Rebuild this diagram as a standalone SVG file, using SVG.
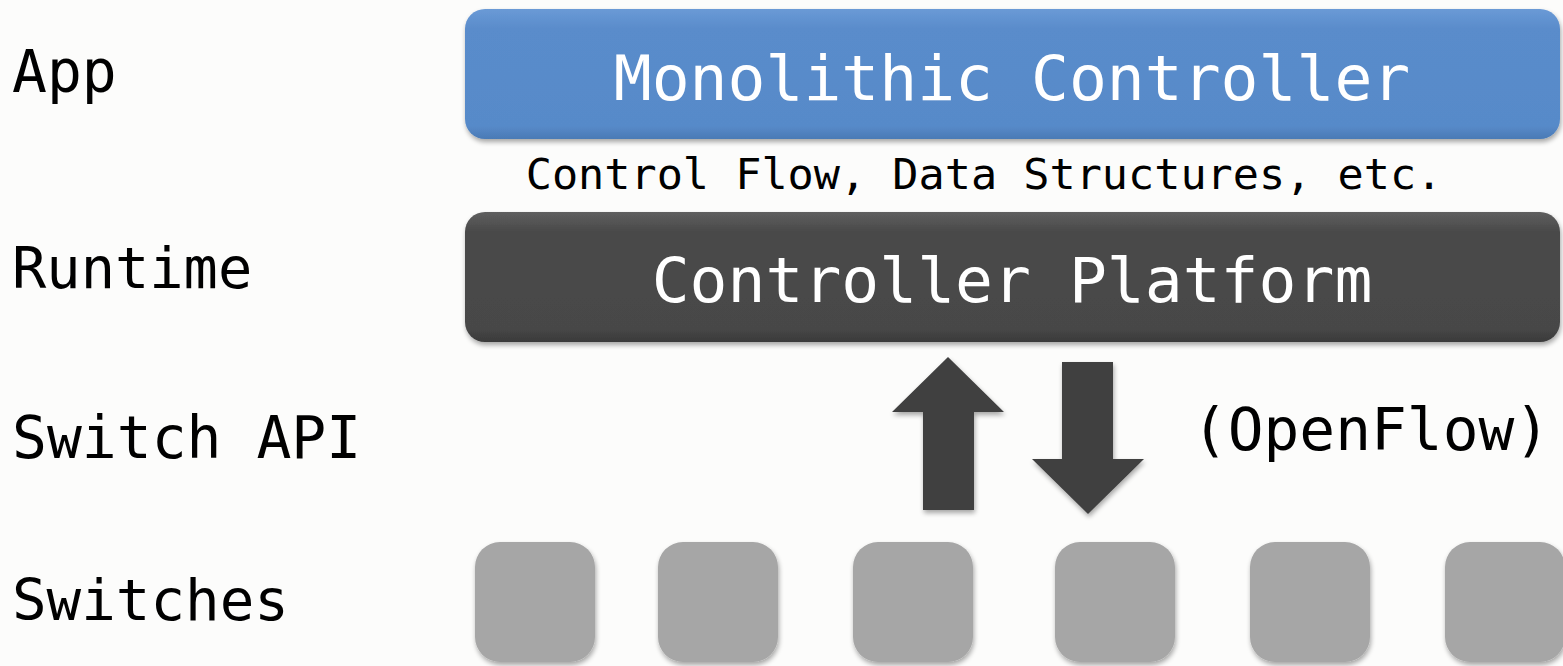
<svg xmlns="http://www.w3.org/2000/svg" width="1563" height="666" viewBox="0 0 1563 666">
<style>
.lbl{font-family:"DejaVu Sans Mono","Liberation Mono",monospace;fill:#000}
.wt{font-family:"DejaVu Sans Mono","Liberation Mono",monospace;fill:#fff}
.sw{fill:#a6a6a6}
.arr{fill:#404040}
</style>
<defs>
<linearGradient id="gb" x1="0" y1="0" x2="0" y2="1">
<stop offset="0" stop-color="#6a9ad6"/><stop offset="0.15" stop-color="#5a8ccb"/><stop offset="0.9" stop-color="#578ac9"/><stop offset="1" stop-color="#4a7ab5"/>
</linearGradient>
<linearGradient id="gd" x1="0" y1="0" x2="0" y2="1">
<stop offset="0" stop-color="#5e5e5e"/><stop offset="0.15" stop-color="#4a4a4a"/><stop offset="0.9" stop-color="#474747"/><stop offset="1" stop-color="#3a3a3a"/>
</linearGradient>
<filter id="sh" x="-10%" y="-10%" width="120%" height="130%">
<feGaussianBlur in="SourceAlpha" stdDeviation="2.5"/>
<feOffset dx="1" dy="3" result="b"/>
<feComponentTransfer><feFuncA type="linear" slope="0.35"/></feComponentTransfer>
<feMerge><feMergeNode/><feMergeNode in="SourceGraphic"/></feMerge>
</filter>
</defs>
<rect width="1563" height="666" fill="#fcfcfb"/>
<g id="labels">
<text class="lbl" x="12" y="92" font-size="58">App</text>
<text class="lbl" x="12" y="288" font-size="57">Runtime</text>
<text class="lbl" x="12" y="458" font-size="58">Switch API</text>
<text class="lbl" x="12" y="620" font-size="57.5">Switches</text>
</g>
<g id="app">
<rect x="465" y="9" width="1095" height="130" rx="20" fill="url(#gb)" filter="url(#sh)"/>
<text class="wt" x="1012" y="100" font-size="63" text-anchor="middle">Monolithic Controller</text>
</g>
<g id="middle-label">
<text class="lbl" x="984" y="189" font-size="43.5" text-anchor="middle">Control Flow, Data Structures, etc.</text>
</g>
<g id="runtime">
<rect x="465" y="212" width="1095" height="130" rx="20" fill="url(#gd)" filter="url(#sh)"/>
<text class="wt" x="1012" y="302" font-size="63" text-anchor="middle">Controller Platform</text>
</g>
<g id="connectors">
<polygon class="arr" filter="url(#sh)" points="948,357 1004,412 974,412 974,510 923,510 923,412 892,412"/>
<polygon class="arr" filter="url(#sh)" points="1062,362 1113,362 1113,459 1144,459 1088,514 1032,459 1062,459"/>
</g>
<g id="openflow">
<text class="lbl" x="1371" y="450" font-size="59.5" text-anchor="middle">(OpenFlow)</text>
</g>
<g id="switches" filter="url(#sh)">
<rect id="s1" class="sw" x="475" y="542" width="120" height="120" rx="25"/>
<rect id="s2" class="sw" x="658" y="542" width="120" height="120" rx="25"/>
<rect id="s3" class="sw" x="853" y="542" width="120" height="120" rx="25"/>
<rect id="s4" class="sw" x="1055" y="542" width="120" height="120" rx="25"/>
<rect id="s5" class="sw" x="1250" y="542" width="120" height="120" rx="25"/>
<rect id="s6" class="sw" x="1445" y="542" width="120" height="120" rx="25"/>
</g>
</svg>
